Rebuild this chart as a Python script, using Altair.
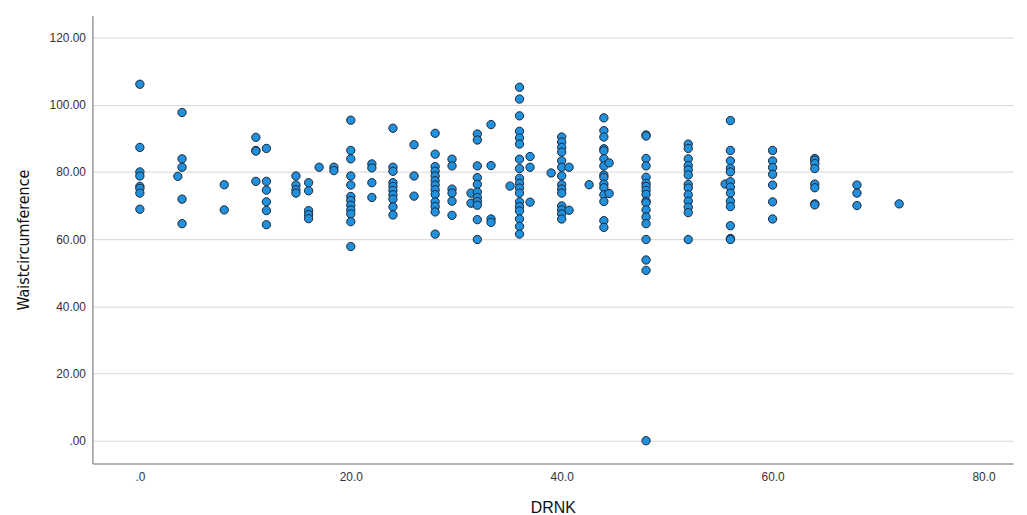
import altair as alt
import pandas as pd

drnk_groups = [0, 3.6, 4, 8, 11, 12, 14.8, 16, 17, 18.4, 20, 22, 24, 26, 28, 29.6, 31.4, 32,
               33.3, 35.1, 36, 37, 39, 40, 40.7, 42.6, 44, 44.5, 48, 52, 55.5, 56, 60, 64, 68, 72]
waist_groups = [
    [106.1, 87.3, 80.0, 78.8, 75.7, 75.1, 73.7, 68.9],
    [78.7],
    [97.7, 83.9, 81.4, 71.9, 64.6],
    [76.2, 68.7],
    [90.3, 86.4, 86.2, 77.2],
    [87.0, 77.2, 74.6, 71.1, 68.5, 64.3],
    [78.8, 76.1, 74.7, 73.7],
    [76.8, 74.4, 68.5, 67.3, 66.1],
    [81.4],
    [81.4, 80.4],
    [95.4, 86.4, 83.9, 78.8, 76.1, 72.7, 71.5, 70.1, 68.7, 67.5, 65.2, 57.8],
    [82.4, 81.2, 76.8, 72.4],
    [93.0, 81.4, 80.2, 76.8, 75.7, 74.5, 73.2, 71.9, 69.6, 67.2],
    [88.1, 78.8, 72.8],
    [91.5, 85.3, 81.6, 80.2, 78.8, 77.4, 76.1, 74.7, 73.3, 71.1, 69.7, 68.1, 61.5],
    [83.8, 81.8, 74.9, 73.7, 71.3, 67.1],
    [73.7, 70.7],
    [91.3, 89.5, 81.8, 78.3, 76.3, 74.0, 72.4, 71.2, 70.1, 65.8, 59.9],
    [94.1, 81.9, 66.0, 65.0],
    [75.8],
    [105.2, 101.7, 96.7, 92.1, 90.1, 88.3, 83.8, 81.0, 78.1, 76.6, 75.2, 73.7, 71.1, 69.7, 68.4, 66.0, 63.8, 61.5],
    [84.6, 81.4, 71.0],
    [79.7],
    [90.4, 88.9, 87.3, 85.9, 83.3, 81.4, 78.8, 76.2, 74.9, 73.7, 69.9, 68.7, 67.5, 66.0],
    [81.4, 68.6],
    [76.2],
    [96.1, 92.3, 90.4, 86.9, 86.3, 83.9, 81.8, 79.1, 78.4, 76.4, 75.3, 73.2, 71.2, 65.5, 63.5],
    [82.7, 73.6],
    [91.0, 90.7, 84.0, 81.8, 78.4, 76.6, 75.7, 74.5, 73.3, 71.3, 70.8, 68.7, 66.6, 64.6, 59.9, 53.8, 50.7, 0.0],
    [88.3, 87.0, 83.9, 81.9, 80.6, 79.1, 76.3, 75.2, 73.2, 71.3, 69.5, 67.9, 59.9],
    [76.4],
    [95.3, 86.4, 83.3, 81.1, 80.0, 77.1, 75.5, 73.7, 71.3, 69.7, 64.0, 60.2, 59.9],
    [86.4, 83.3, 81.3, 79.3, 76.1, 71.1, 66.0],
    [84.0, 83.5, 82.5, 81.0, 76.4, 75.3, 70.5, 70.2],
    [76.1, 73.7, 70.0],
    [70.5],
]

x_ticks = [0, 20, 40, 60, 80]
y_ticks = [0, 20, 40, 60, 80, 100, 120]

rows = []
for d, ws in zip(drnk_groups, waist_groups):
    for w in ws:
        rows.append({"DRNK": d, "Waistcircumference": w})
df = pd.DataFrame(rows)

chart = alt.Chart(df).mark_point(
    filled=True, shape="circle", size=70, fill="#2191dd",
    stroke="#1b2433", strokeWidth=1, opacity=1
).encode(
    x=alt.X("DRNK:Q",
            scale=alt.Scale(domain=[-4.5, 82.8], nice=False, zero=False),
            axis=alt.Axis(values=x_ticks, grid=False, ticks=False,
                          labelExpr="datum.value == 0 ? '.0' : format(datum.value, '.1f')",
                          labelPadding=8, titlePadding=17, title="DRNK",
                          titleFontSize=16, titleFontWeight="normal")),
    y=alt.Y("Waistcircumference:Q",
            scale=alt.Scale(domain=[-6.8, 126.5], nice=False, zero=False),
            axis=alt.Axis(values=y_ticks, grid=True, ticks=False,
                          labelExpr="datum.value == 0 ? '.00' : format(datum.value, '.2f')",
                          labelPadding=7, titlePadding=18, title="Waistcircumference",
                          titleFontSize=16, titleFontWeight="normal",
                          titleFont="DejaVu Sans Condensed, Liberation Sans Narrow, Liberation Sans")),
).properties(
    width=927, height=451,
    autosize=alt.AutoSizeParams(type="none"),
    padding={"left": 85, "top": 6, "right": 6, "bottom": 50},
).configure_axis(
    labelFont="Liberation Sans", labelFontSize=12, labelColor="#333333",
    titleFont="Liberation Sans", titleColor="#111111",
    domainColor="#9a9a9a", domainWidth=1.5,
    gridColor="#d6d6d6", gridWidth=1,
).configure_view(stroke=None)

chart.save("out.html", embed_options={"renderer": "svg", "actions": False})
